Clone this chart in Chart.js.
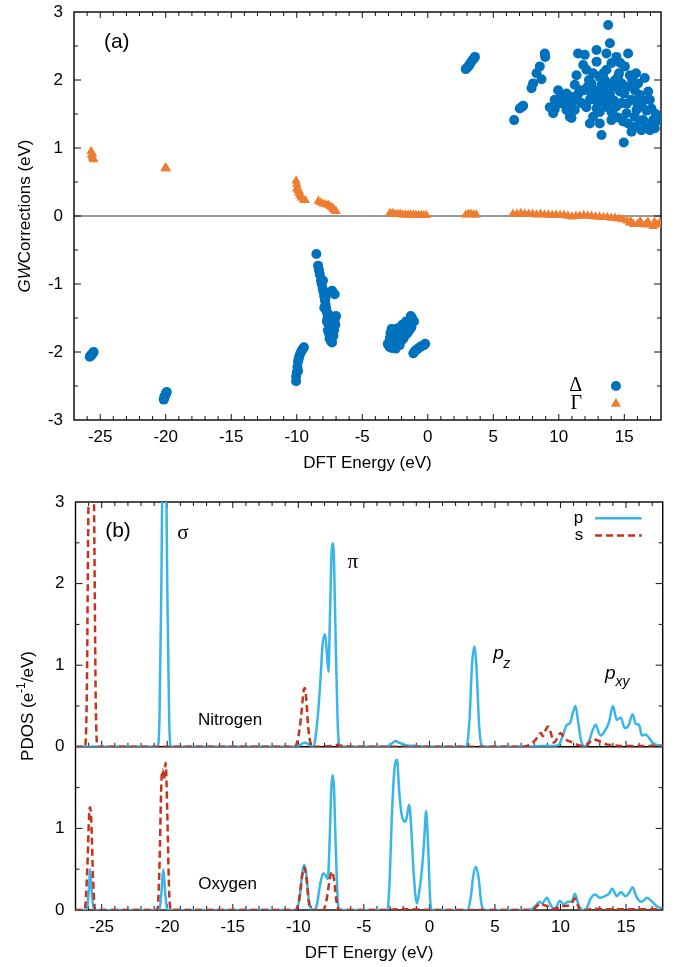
<!DOCTYPE html>
<html>
<head>
<meta charset="utf-8">
<script src="https://cdn.jsdelivr.net/npm/chart.js@4.4.1/dist/chart.umd.min.js"></script>
<style>
  html, body { margin: 0; padding: 0; background: #fff; }
  #wrap { position: relative; width: 677px; height: 967px; }
  canvas { position: absolute; left: 0; }
  #gw { top: 0; }
  #pdos { top: 480px; }
</style>
</head>
<body>
<div id="wrap">
  <canvas id="gw" width="677" height="480"></canvas>
  <canvas id="pdos" width="677" height="487"></canvas>
</div>
<script>
// ---------- axis ticks ----------
const energyTicks = [-25, -20, -15, -10, -5, 0, 5, 10, 15];
const gwTicks = [-3, -2, -1, 0, 1, 2, 3];
const nitrogenTicks = [0, 1, 2, 3];
const oxygenTicks = [0, 1];

// ---------- (a) GW corrections: [DFT energy, correction] ----------
const deltaPoints = [
  [-25.8,-2.07],[-25.75,-2.06],[-25.7,-2.05],[-25.65,-2.04],[-25.6,-2.03],[-25.55,-2.01],[-25.5,-2.0],
  [-20.15,-2.7],[-20.12,-2.68],[-20.1,-2.66],[-20.05,-2.64],[-20.0,-2.62],[-19.95,-2.6],[-19.92,-2.59],
  [-10.05,-2.43],[-10.05,-2.36],[-10.0,-2.3],[-9.95,-2.22],[-9.9,-2.14],[-9.85,-2.1],[-9.8,-2.06],
  [-9.72,-2.02],[-9.62,-1.98],[-9.52,-1.95],[-9.45,-1.93],[-9.9,-2.28],
  [-8.5,-0.56],[-8.37,-0.73],[-8.3,-0.8],[-8.24,-0.86],[-8.15,-0.95],[-8.1,-1.0],[-8.02,-1.07],
  [-7.95,-1.12],[-7.9,-1.18],[-7.85,-1.24],[-7.8,-1.3],[-7.75,-1.36],[-7.7,-1.42],[-7.65,-1.5],
  [-7.6,-1.58],[-7.62,-1.68],[-7.55,-1.72],[-7.5,-1.8],[-7.4,-1.84],[-7.3,-1.86],[-7.1,-1.15],
  [-7.3,-1.1],[-7.0,-1.47],[-7.1,-1.52],[-7.05,-1.6],[-7.15,-1.68],[-7.2,-1.76],[-7.35,-1.62],
  [-7.45,-1.55],[-7.5,-1.65],[-7.55,-1.45],[-7.7,-1.55],[-7.8,-1.2],[-7.9,-1.35],[-8.0,-0.95],
  [-3.0,-1.9],[-2.9,-1.93],[-2.8,-1.88],[-2.75,-1.94],[-2.7,-1.83],[-2.6,-1.9],[-2.5,-1.86],
  [-2.45,-1.95],[-2.4,-1.8],[-2.3,-1.87],[-2.2,-1.78],[-2.15,-1.9],[-2.05,-1.74],[-2.0,-1.83],
  [-1.9,-1.7],[-1.85,-1.8],[-1.75,-1.66],[-1.7,-1.75],[-1.6,-1.63],[-1.55,-1.72],[-1.45,-1.6],
  [-1.4,-1.68],[-1.3,-1.57],[-1.25,-1.64],[-1.2,-1.5],[-1.1,-1.55],[-2.85,-1.72],[-2.65,-1.7],
  [-2.5,-1.75],[-1.95,-1.6],[-1.65,-1.55],[-2.3,-1.65],[-1.3,-1.47],[-1.05,-1.55],[-2.9,-1.8],
  [-3.05,-1.88],[-2.75,-1.66],
  [-1.1,-2.02],[-1.0,-1.99],[-0.9,-1.97],[-0.75,-1.95],[-0.6,-1.93],[-0.45,-1.91],[-0.3,-1.9],[-0.2,-1.88],
  [2.9,2.16],[3.0,2.18],[3.1,2.2],[3.2,2.23],[3.3,2.26],[3.4,2.29],[3.5,2.31],[3.6,2.34],
  [6.59,1.41],[7.02,1.58],[7.15,1.6],[7.28,1.62],[7.92,1.88],[8.04,1.95],[8.3,2.1],[8.55,2.2],[8.68,2.01],
  [8.93,2.39],[8.96,2.34],[9.31,1.6],[9.57,1.51],[9.69,1.57],[9.69,1.71],[9.95,1.85],[10.08,1.73],
  [10.08,1.66],[10.3,1.65],[10.46,1.75],[10.59,1.56],[10.6,1.8],[10.71,1.71],[10.84,1.46],[10.97,1.66],
  [10.97,1.44],[11.1,1.75],[11.22,1.56],[11.22,1.93],[11.35,1.71],[11.35,2.07],[11.47,2.39],[11.5,1.8],
  [11.6,1.85],[11.73,1.66],[11.86,2.22],[11.9,1.85],[11.98,2.37],[12.1,1.6],[12.11,2.15],[12.2,1.9],
  [12.37,1.36],[12.37,1.71],[12.49,1.95],[12.49,1.78],[12.62,2.1],[12.62,1.46],[12.7,1.85],[12.88,2.44],
  [12.88,2.27],[12.88,1.58],[12.9,1.7],[13.0,1.83],[13.0,1.66],[13.1,2.05],[13.13,1.53],[13.13,1.36],
  [13.26,1.19],[13.26,1.73],[13.26,1.93],[13.4,1.85],[13.5,1.7],[13.51,2.0],[13.64,2.15],[13.64,2.39],
  [13.64,1.63],[13.7,1.6],[13.77,2.81],[13.8,1.95],[13.9,2.54],[13.9,1.75],[13.9,1.8],[14.02,2.25],
  [14.02,1.53],[14.02,1.41],[14.1,1.55],[14.15,1.9],[14.2,1.7],[14.3,2.0],[14.4,2.34],[14.4,1.61],
  [14.5,1.45],[14.53,2.05],[14.6,2.1],[14.66,1.83],[14.79,1.66],[14.8,1.95],[14.91,1.39],[14.91,1.9],
  [14.96,1.08],[15.0,1.8],[15.04,2.2],[15.17,1.51],[15.2,1.65],[15.29,2.39],[15.29,1.36],[15.3,1.9],
  [15.42,2.07],[15.55,1.71],[15.55,1.24],[15.6,2.0],[15.8,1.46],[15.8,1.31],[15.8,1.85],[15.93,1.56],
  [16.0,1.65],[16.05,1.95],[16.18,1.78],[16.2,1.4],[16.31,1.61],[16.31,1.26],[16.44,1.41],[16.5,1.7],
  [16.56,2.03],[16.69,1.31],[16.7,1.55],[16.82,1.83],[16.95,1.71],[16.95,1.26],[17.0,1.35],[17.07,1.58],
  [17.2,1.41],[17.33,1.29],[17.4,1.5],[17.58,1.41],[13.4,2.1],[14.7,2.25],[15.9,2.1],[12.3,2.0]
];
const gammaPoints = [
  [-25.7,0.95],[-25.65,0.9],[-25.6,0.87],[-25.55,0.85],[-25.5,0.83],[-25.6,0.92],
  [-20.05,0.7],[-20.0,0.71],[-19.95,0.7],
  [-10.05,0.52],[-10.0,0.47],[-9.95,0.42],[-9.9,0.38],[-9.85,0.34],[-9.75,0.3],[-9.65,0.27],
  [-9.5,0.24],[-9.35,0.23],[-10.0,0.4],[-9.8,0.36],
  [-8.35,0.22],[-8.2,0.2],[-8.0,0.18],[-7.8,0.17],[-7.6,0.16],[-7.45,0.14],[-7.3,0.12],[-7.2,0.1],
  [-7.1,0.08],[-7.0,0.07],
  [-2.9,0.04],[-2.7,0.04],[-2.5,0.03],[-2.3,0.03],[-2.1,0.03],[-1.9,0.02],[-1.7,0.02],[-1.5,0.02],
  [-1.3,0.02],[-1.1,0.02],[-0.9,0.01],[-0.7,0.01],[-0.5,0.01],[-0.3,0.01],[-0.1,0.01],
  [2.9,0.02],[3.1,0.03],[3.3,0.03],[3.5,0.02],[3.7,0.02],
  [6.5,0.03],[6.8,0.03],[7.1,0.04],[7.4,0.03],[7.7,0.03],[8.0,0.03],[8.3,0.02],[8.6,0.03],[8.9,0.02],
  [9.2,0.02],[9.5,0.01],[9.8,0.02],[10.1,0.01],[10.4,0.01],[10.7,0.0],[11.0,-0.01],[11.3,0.0],
  [11.6,0.0],[11.9,0.01],[12.2,0.0],[12.5,0.0],[12.8,-0.01],[13.1,-0.01],[13.4,-0.02],[13.7,-0.02],
  [14.0,-0.03],[14.3,-0.03],[14.6,-0.04],[14.9,-0.05],[15.2,-0.07],[15.4,-0.1],[15.5,-0.08],
  [15.7,-0.12],[16.0,-0.12],[16.2,-0.08],[16.3,-0.11],[16.6,-0.13],[16.8,-0.09],[16.9,-0.12],
  [17.2,-0.15],[17.3,-0.09],[17.5,-0.13],[17.7,-0.1]
];

// ---------- (b) projected DOS: [energy, states per eV] ----------
const nitrogenP = [
  [-27,0],[-20.75,0],[-20.6,0.3],[-20.45,2.0],[-20.3,4.2],[-20.15,4.2],[-20.0,2.0],[-19.85,0.3],[-19.7,0],
  [-10.1,0],[-9.8,0.03],[-9.5,0.05],[-9.2,0.03],[-8.9,0],[-8.75,0.05],[-8.5,0.4],[-8.3,0.85],
  [-8.15,1.25],[-7.95,1.38],[-7.8,1.1],[-7.7,0.92],[-7.6,1.5],[-7.48,2.3],[-7.38,2.49],[-7.28,2.3],
  [-7.15,1.3],[-7.0,0.3],[-6.85,0],[-3.4,0],[-3.0,0.02],[-2.6,0.07],[-2.3,0.05],[-1.8,0.02],[-1.0,0.01],
  [0,0],[2.8,0],[3.05,0.3],[3.25,1.0],[3.42,1.23],[3.6,0.95],[3.8,0.25],[4.0,0],[7.5,0],[8.5,0.01],
  [9.5,0.01],[9.9,0.03],[10.2,0.15],[10.45,0.26],[10.75,0.3],[10.95,0.42],[11.15,0.5],[11.35,0.3],
  [11.6,0.06],[11.9,0],[12.2,0.08],[12.45,0.2],[12.7,0.27],[12.95,0.16],[13.1,0.14],[13.4,0.2],
  [13.7,0.3],[14.0,0.5],[14.3,0.33],[14.6,0.36],[14.9,0.23],[15.2,0.26],[15.5,0.4],[15.75,0.28],
  [16.0,0.27],[16.2,0.14],[16.5,0.15],[16.8,0.1],[17.1,0.04],[17.5,0.02],[17.8,0.01]
];
const nitrogenS = [
  [-27,0],[-26.3,0],[-26.15,0.5],[-26.0,3.2],[-25.8,5.0],[-25.6,3.2],[-25.45,0.5],[-25.3,0],
  [-10.3,0],[-10.05,0.08],[-9.8,0.35],[-9.6,0.68],[-9.5,0.72],[-9.4,0.6],[-9.25,0.25],[-9.05,0.03],
  [-8.9,0],[-7.5,0.01],[-7.0,0.02],[-6.5,0.01],[-6.0,0],[7.0,0],[7.6,0.02],[8.0,0.07],[8.3,0.13],
  [8.5,0.17],[8.65,0.13],[8.85,0.2],[9.05,0.25],[9.25,0.18],[9.5,0.05],[9.75,0.1],[10.0,0.17],
  [10.25,0.12],[10.5,0.08],[10.8,0.06],[11.2,0.03],[11.6,0.01],[11.9,0],[12.2,0.05],[12.5,0.09],
  [12.8,0.08],[13.1,0.06],[13.5,0.03],[14.0,0.02],[14.5,0.01],[16.0,0.01],[17.8,0.01]
];
const oxygenP = [
  [-27,0],[-26.15,0],[-26.0,0.2],[-25.88,0.5],[-25.75,0.2],[-25.6,0],[-20.6,0],[-20.45,0.2],
  [-20.3,0.5],[-20.15,0.2],[-20.0,0],[-10.2,0],[-9.9,0.15],[-9.7,0.45],[-9.55,0.55],[-9.4,0.45],
  [-9.2,0.12],[-9.0,0.01],[-8.8,0],[-8.6,0.05],[-8.35,0.3],[-8.1,0.45],[-7.9,0.42],[-7.75,0.38],
  [-7.6,0.9],[-7.48,1.5],[-7.38,1.65],[-7.28,1.5],[-7.15,0.8],[-7.0,0.15],[-6.85,0],[-3.2,0],
  [-3.05,0.3],[-2.85,1.2],[-2.65,1.75],[-2.47,1.84],[-2.3,1.45],[-2.15,1.2],[-1.9,1.08],[-1.75,1.12],
  [-1.55,1.29],[-1.4,1.05],[-1.2,0.45],[-0.95,0.08],[-0.75,0.25],[-0.55,0.53],[-0.4,0.85],
  [-0.25,1.21],[-0.1,0.8],[0.05,0.15],[0.2,0],[2.9,0],[3.15,0.15],[3.35,0.42],[3.55,0.53],
  [3.75,0.4],[3.95,0.1],[4.15,0],[7.5,0],[7.9,0.02],[8.2,0.07],[8.4,0.1],[8.6,0.08],[8.95,0.15],
  [9.2,0.08],[9.45,0.02],[9.65,0.03],[9.95,0.11],[10.25,0.07],[10.6,0.1],[10.85,0.1],[11.1,0.2],
  [11.4,0.05],[11.75,0],[12.0,0.02],[12.3,0.14],[12.65,0.19],[13.0,0.15],[13.4,0.17],[13.7,0.2],
  [13.95,0.26],[14.3,0.17],[14.6,0.22],[14.95,0.17],[15.2,0.2],[15.5,0.28],[15.8,0.16],[16.2,0.1],
  [16.6,0.15],[17.0,0.1],[17.4,0.04],[17.8,0.02]
];
const oxygenS = [
  [-27,0],[-26.3,0],[-26.1,0.5],[-25.95,1.2],[-25.88,1.26],[-25.8,1.1],[-25.65,0.35],[-25.5,0],
  [-20.75,0],[-20.6,0.5],[-20.45,1.55],[-20.35,1.72],[-20.25,1.6],[-20.12,1.8],[-20.0,1.2],
  [-19.85,0.2],[-19.7,0],[-10.2,0],[-9.95,0.12],[-9.7,0.42],[-9.55,0.52],[-9.4,0.42],[-9.2,0.1],
  [-9.0,0],[-8.1,0],[-7.85,0.12],[-7.6,0.38],[-7.45,0.47],[-7.3,0.4],[-7.1,0.12],[-6.9,0],
  [-3.0,0],[-2.5,0.01],[-1.5,0.01],[0,0],[7.5,0],[8.0,0.02],[8.3,0.06],[8.5,0.08],[8.75,0.06],
  [9.0,0.05],[9.35,0.01],[9.7,0.02],[10.0,0.05],[10.4,0.05],[10.8,0.07],[11.1,0.14],[11.3,0.07],
  [11.5,0],[12.0,0],[12.5,0.02],[13.0,0.01],[17.8,0.01]
];

// ---------- styling ----------
const SANS = '"Liberation Sans", Arial, Helvetica, sans-serif';
const SERIF = '"Liberation Serif", "Times New Roman", serif';
const BLUE_DOT = '#0072BD';
const ORANGE = '#EE7D31';
const P_BLUE = '#38B6E9';
const S_RED = '#C8321C';

Chart.defaults.font.family = SANS;
Chart.defaults.font.size = 17;
Chart.defaults.color = '#000';

const toXY = pts => pts.map(([x, y]) => ({ x, y }));
const fixedTicks = list => scale => { scale.ticks = list.map(v => ({ value: v })); };
// fixed axis thickness, and no extra room reserved for overhanging labels
const fitWidth = w => s => { s.width = w; s.paddingTop = 0; s.paddingBottom = 0; };
const fitHeight = h => s => { s.height = h; s.paddingLeft = 0; s.paddingRight = 0; };

function stepValues(min, max, step) {
  const out = [];
  for (let k = Math.ceil(min / step - 1e-9); k * step <= max + 1e-9; k++) out.push(+(k * step).toFixed(6));
  return out;
}
function isMultiple(v, step) { return Math.abs(v / step - Math.round(v / step)) < 1e-6; }

// tick marks pointing into the plot, gnuplot style
function xMarks(ctx, xs, edges, minor, major, lMaj, lMin) {
  stepValues(xs.min, xs.max, minor).forEach(v => {
    const px = xs.getPixelForValue(v);
    if (px < xs.left + 1 || px > xs.right - 1) return;
    const len = isMultiple(v, major) ? lMaj : lMin;
    edges.forEach(([y, dir]) => { ctx.moveTo(px, y); ctx.lineTo(px, y + dir * len); });
  });
}
function yMarks(ctx, ys, edges, minor, major, lMaj, lMin) {
  stepValues(ys.min, ys.max, minor).forEach(v => {
    const py = ys.getPixelForValue(v);
    if (py < ys.top + 1 || py > ys.bottom - 1) return;
    const len = isMultiple(v, major) ? lMaj : lMin;
    edges.forEach(([x, dir]) => { ctx.moveTo(x, py); ctx.lineTo(x + dir * len, py); });
  });
}

// text made of runs with different fonts / offsets
function runs(ctx, parts, x, y, align) {
  let total = 0;
  parts.forEach(p => { ctx.font = p.font; p.w = ctx.measureText(p.text).width; total += p.w; });
  let cx = align === 'center' ? x - total / 2 : (align === 'right' ? x - total : x);
  parts.forEach(p => {
    ctx.font = p.font;
    ctx.textAlign = 'left';
    ctx.fillText(p.text, cx, y + (p.dy || 0));
    cx += p.w;
  });
}
function text(ctx, str, x, y, font, align, base) {
  ctx.font = font; ctx.textAlign = align || 'center'; ctx.textBaseline = base || 'middle';
  ctx.fillText(str, x, y);
}

const noHover = { events: [], animation: false, responsive: false, maintainAspectRatio: false };

// ---------- (a) ----------
const gwFrame = {
  id: 'gwFrame',
  beforeDatasetsDraw(chart) {
    const { ctx, chartArea: a, scales: { x, y } } = chart;
    ctx.save();
    ctx.strokeStyle = '#333'; ctx.lineWidth = 1;
    const y0 = y.getPixelForValue(0);
    ctx.beginPath(); ctx.moveTo(a.left, y0); ctx.lineTo(a.right, y0); ctx.stroke();
    ctx.strokeStyle = '#111'; ctx.lineWidth = 1;
    ctx.beginPath();
    xMarks(ctx, x, [[a.bottom, -1], [a.top, 1]], 1, 5, 6, 4);
    yMarks(ctx, y, [[a.left, 1], [a.right, -1]], 0.5, 1, 7, 4);
    ctx.stroke();
    ctx.lineWidth = 1.4; ctx.strokeStyle = '#000';
    ctx.strokeRect(a.left, a.top, a.right - a.left, a.bottom - a.top);
    ctx.restore();
  },
  afterDraw(chart) {
    const { ctx, chartArea: a, scales: { x, y } } = chart;
    ctx.save();
    ctx.fillStyle = '#000';
    // y title
    ctx.translate(25, (a.top + a.bottom) / 2);
    ctx.rotate(-Math.PI / 2);
    ctx.textBaseline = 'middle';
    runs(ctx, [
      { text: 'GW', font: 'italic 17px ' + SANS },
      { text: 'Corrections (eV)', font: '17px ' + SANS }
    ], 0, 0, 'center');
    ctx.restore();

    ctx.save();
    ctx.fillStyle = '#000';
    text(ctx, '(a)', x.getPixelForValue(-23.74), y.getPixelForValue(2.55), '21px ' + SANS);
    // legend
    text(ctx, 'Δ', x.getPixelForValue(11.77), y.getPixelForValue(-2.5), '20px ' + SERIF, 'right');
    text(ctx, 'Γ', x.getPixelForValue(11.77), y.getPixelForValue(-2.76), '20px ' + SERIF, 'right');
    const mx = x.getPixelForValue(14.36);
    ctx.fillStyle = BLUE_DOT;
    ctx.beginPath(); ctx.arc(mx, y.getPixelForValue(-2.5), 5, 0, Math.PI * 2); ctx.fill();
    ctx.fillStyle = ORANGE;
    Chart.helpers.drawPoint(ctx, { pointStyle: 'triangle', radius: 5.5, borderWidth: 0 }, mx, y.getPixelForValue(-2.76));
    ctx.fill();
    ctx.restore();
  }
};

new Chart(document.getElementById('gw'), {
  type: 'scatter',
  data: {
    datasets: [
      { label: 'Δ', data: toXY(deltaPoints), pointStyle: 'circle', pointRadius: 5,
        backgroundColor: BLUE_DOT, borderWidth: 0 },
      { label: 'Γ', data: toXY(gammaPoints), pointStyle: 'triangle', pointRadius: 5.5,
        backgroundColor: ORANGE, borderWidth: 0 }
    ]
  },
  options: {
    ...noHover,
    layout: { padding: { top: 12, right: 16, left: 0, bottom: 0 } },
    plugins: { legend: { display: false }, tooltip: { enabled: false } },
    scales: {
      x: {
        type: 'linear', min: -27, max: 17.8,
        afterBuildTicks: fixedTicks(energyTicks),
        afterFit: fitHeight(60),
        grid: { display: false, drawTicks: false }, border: { display: false },
        ticks: { padding: 7, maxRotation: 0, autoSkip: false, callback: v => String(v) },
        title: { display: true, text: 'DFT Energy (eV)', padding: { top: 0, bottom: 6.5 } }
      },
      y: {
        type: 'linear', min: -3, max: 3,
        afterBuildTicks: fixedTicks(gwTicks),
        afterFit: fitWidth(74),
        grid: { display: false, drawTicks: false }, border: { display: false },
        ticks: { padding: 11, autoSkip: false, callback: v => String(v) }
      }
    }
  },
  plugins: [gwFrame]
});

// ---------- (b) ----------
const pdosFrame = {
  id: 'pdosFrame',
  beforeDatasetsDraw(chart) {
    const { ctx, chartArea: a, scales: { x, yN, yO } } = chart;
    const mid = yN.bottom;
    ctx.save();
    ctx.strokeStyle = '#111'; ctx.lineWidth = 1;
    ctx.beginPath();
    xMarks(ctx, x, [[a.bottom, -1], [a.top, 1], [mid, -1]], 1, 5, 6, 4);
    yMarks(ctx, yN, [[a.left, 1], [a.right, -1]], 0.5, 1, 7, 4);
    yMarks(ctx, yO, [[a.left, 1], [a.right, -1]], 0.5, 1, 7, 4);
    ctx.stroke();
    ctx.lineWidth = 1.4; ctx.strokeStyle = '#000';
    ctx.strokeRect(a.left, a.top, a.right - a.left, a.bottom - a.top);
    ctx.beginPath(); ctx.moveTo(a.left, mid); ctx.lineTo(a.right, mid); ctx.stroke();
    ctx.restore();
  },
  afterDraw(chart) {
    const { ctx, chartArea: a, scales: { x, yN, yO } } = chart;
    ctx.save();
    ctx.fillStyle = '#000';
    ctx.translate(28, (a.top + a.bottom) / 2);
    ctx.rotate(-Math.PI / 2);
    ctx.textBaseline = 'middle';
    runs(ctx, [
      { text: 'PDOS (e', font: '17px ' + SANS },
      { text: '-1', font: '12px ' + SANS, dy: -6 },
      { text: '/eV)', font: '17px ' + SANS }
    ], 0, 0, 'center');
    ctx.restore();

    ctx.save();
    ctx.fillStyle = '#000';
    text(ctx, '(b)', x.getPixelForValue(-23.76), yN.getPixelForValue(2.636), '21px ' + SANS);
    text(ctx, 'σ', x.getPixelForValue(-18.8), yN.getPixelForValue(2.62), '21px ' + SERIF);
    text(ctx, 'π', x.getPixelForValue(-5.85), yN.getPixelForValue(2.256), '21px ' + SERIF);
    text(ctx, 'Nitrogen', x.getPixelForValue(-15.21), yN.getPixelForValue(0.32), '17px ' + SANS);
    text(ctx, 'Oxygen', x.getPixelForValue(-15.4), yO.getPixelForValue(0.32), '17px ' + SANS);
    // orbital labels
    text(ctx, 'p', x.getPixelForValue(4.88), yN.getPixelForValue(1.07), 'italic 19px ' + SANS, 'left', 'alphabetic');
    text(ctx, 'z', x.getPixelForValue(5.64), yN.getPixelForValue(0.97), 'italic 14px ' + SANS, 'left', 'alphabetic');
    text(ctx, 'p', x.getPixelForValue(13.4), yN.getPixelForValue(0.83), 'italic 19px ' + SANS, 'left', 'alphabetic');
    text(ctx, 'xy', x.getPixelForValue(14.2), yN.getPixelForValue(0.745), 'italic 14px ' + SANS, 'left', 'alphabetic');
    // legend
    const lx = x.getPixelForValue(11.74), l0 = x.getPixelForValue(12.64), l1 = x.getPixelForValue(16.2);
    const yp = yN.getPixelForValue(2.8), ys = yN.getPixelForValue(2.59);
    text(ctx, 'p', lx, yp, '17px ' + SANS, 'right');
    text(ctx, 's', lx, ys, '17px ' + SANS, 'right');
    ctx.lineWidth = 2.5;
    ctx.strokeStyle = P_BLUE;
    ctx.beginPath(); ctx.moveTo(l0, yp); ctx.lineTo(l1, yp); ctx.stroke();
    ctx.strokeStyle = S_RED; ctx.setLineDash([7, 4]);
    ctx.beginPath(); ctx.moveTo(l0, ys); ctx.lineTo(l1, ys); ctx.stroke();
    ctx.restore();
  }
};

const lineStyle = (color, dashed) => ({
  borderColor: color, borderWidth: 2.5, pointRadius: 0, fill: false,
  cubicInterpolationMode: 'monotone', borderDash: dashed ? [7, 4] : [], xAxisID: 'x'
});

new Chart(document.getElementById('pdos'), {
  type: 'line',
  data: {
    datasets: [
      { label: 's', data: toXY(nitrogenS), yAxisID: 'yN', ...lineStyle(S_RED, true) },
      { label: 's', data: toXY(oxygenS), yAxisID: 'yO', ...lineStyle(S_RED, true) },
      { label: 'p', data: toXY(nitrogenP), yAxisID: 'yN', ...lineStyle(P_BLUE, false) },
      { label: 'p', data: toXY(oxygenP), yAxisID: 'yO', ...lineStyle(P_BLUE, false) }
    ]
  },
  options: {
    ...noHover,
    layout: { padding: { top: 22, right: 14.3, left: 0, bottom: 0 } },
    plugins: { legend: { display: false }, tooltip: { enabled: false } },
    scales: {
      x: {
        type: 'linear', position: 'bottom', min: -27, max: 17.8,
        afterBuildTicks: fixedTicks(energyTicks),
        afterFit: fitHeight(57),
        grid: { display: false, drawTicks: false }, border: { display: false },
        ticks: { padding: 7, maxRotation: 0, autoSkip: false, callback: v => String(v) },
        title: { display: true, text: 'DFT Energy (eV)', padding: { top: 0, bottom: 3.5 } }
      },
      yO: {
        type: 'linear', position: 'left', stack: 'pdos', stackWeight: 2, min: 0, max: 2,
        afterBuildTicks: fixedTicks(oxygenTicks),
        afterFit: fitWidth(75.5),
        grid: { display: false, drawTicks: false }, border: { display: false },
        ticks: { padding: 11, autoSkip: false, callback: v => String(v) }
      },
      yN: {
        type: 'linear', position: 'left', stack: 'pdos', stackWeight: 3, min: 0, max: 3,
        afterBuildTicks: fixedTicks(nitrogenTicks),
        afterFit: fitWidth(75.5),
        grid: { display: false, drawTicks: false }, border: { display: false },
        ticks: { padding: 11, autoSkip: false, callback: v => String(v) }
      }
    }
  },
  plugins: [pdosFrame]
});
</script>
</body>
</html>
